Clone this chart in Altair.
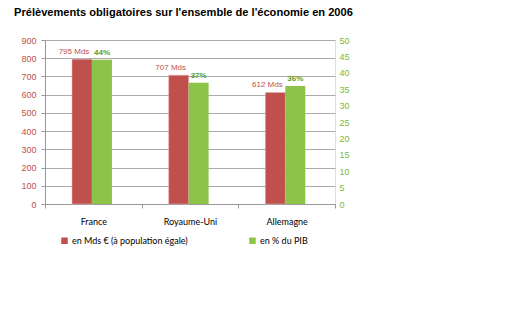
import altair as alt
import pandas as pd

pays = ["France", "Royaume-Uni", "Allemagne"]
mds = [795, 707, 612]
pib = [44, 37, 36]
series = ["en Mds € (à population  égale)", "en % du PIB"]
colors = ["#C0504D", "#8CC44A"]
left_ticks = [0, 100, 200, 300, 400, 500, 600, 700, 800, 900]
right_ticks = [0, 5, 10, 15, 20, 25, 30, 35, 40, 45, 50]

df_red = pd.DataFrame({"pays": pays, "val": mds, "serie": series[0],
                       "lab": [f"{v} Mds" for v in mds]})
df_green = pd.DataFrame({"pays": pays, "val": pib, "serie": series[1],
                         "lab": [f"{v}%" for v in pib]})

offset_domain = ["_g"] + series + ["_d"]

x_enc = alt.X("pays:N", sort=pays, title=None,
              scale=alt.Scale(paddingInner=0, paddingOuter=0),
              axis=alt.Axis(labelAngle=0, labelFont="Lato", labelFontSize=9,
                            labelColor="#000000", labelPadding=9, tickBand="extent",
                            domainColor="#999999", tickColor="#999999", tickSize=4))
xoff = alt.XOffset("serie:N",
                   scale=alt.Scale(domain=offset_domain, paddingInner=0, paddingOuter=0.42,
                                   align=0.42))
color = alt.Color("serie:N", scale=alt.Scale(domain=series, range=colors),
                  legend=alt.Legend(title=None, orient="none", direction="horizontal",
                                    legendX=15, legendY=196, symbolType="square",
                                    symbolSize=42, symbolStrokeWidth=0,
                                    labelFont="Lato", labelFontSize=9, labelColor="#000000",
                                    columnPadding=57, labelOffset=3))

y_left = alt.Y("val:Q", title=None,
               scale=alt.Scale(domain=[0, 900], nice=False),
               axis=alt.Axis(values=left_ticks, orient="left", grid=True, gridColor="#ABABAB",
                             labelColor="#C0504D", labelFont="Liberation Sans", labelFontSize=9,
                             domainColor="#999999", tickColor="#999999", tickSize=4,
                             labelPadding=5, labelOverlap=False, tickCount=10))
y_right = alt.Y("val:Q", title=None,
                scale=alt.Scale(domain=[0, 50], nice=False),
                axis=alt.Axis(values=right_ticks, orient="right", grid=False,
                              labelColor="#7DB83A", labelFont="Liberation Sans", labelFontSize=9,
                              domain=False, ticks=False, labelPadding=4, labelOverlap=False,
                              tickCount=11))

red_bars = alt.Chart(df_red).mark_bar(stroke="#E8B0AE", strokeWidth=0.5).encode(
    x=x_enc, xOffset=xoff, y=y_left, color=color)
red_text = alt.Chart(df_red).mark_text(dy=-7, dx=-8, font="Liberation Sans", fontSize=8,
                                       color="#C0504D").encode(
    x=x_enc, xOffset=xoff, y=y_left, text="lab:N")
green_bars = alt.Chart(df_green).mark_bar().encode(
    x=x_enc, xOffset=xoff, y=y_right, color=color)
green_text = alt.Chart(df_green).mark_text(dy=-7, font="Liberation Sans", fontSize=8,
                                           fontWeight="bold", color="#5BA02E").encode(
    x=x_enc, xOffset=xoff, y=y_right, text="lab:N")

chart = alt.layer(
    alt.layer(red_bars, red_text),
    alt.layer(green_bars, green_text),
).resolve_scale(y="independent").properties(
    width=290, height=164,
    autosize=alt.AutoSizeParams(type="none"),
    padding={"left": 45, "top": 40, "right": 181, "bottom": 122},
    title=alt.Title("Prélèvements obligatoires sur l'ensemble de l'économie en 2006",
                    anchor="start", frame="group", dx=-31, offset=18,
                    font="Liberation Sans", fontSize=11.1, fontWeight="bold", color="#000000"),
).configure_view(stroke=None).configure(background="white")

chart.save("out.html", embed_options={"renderer": "svg", "actions": False})
